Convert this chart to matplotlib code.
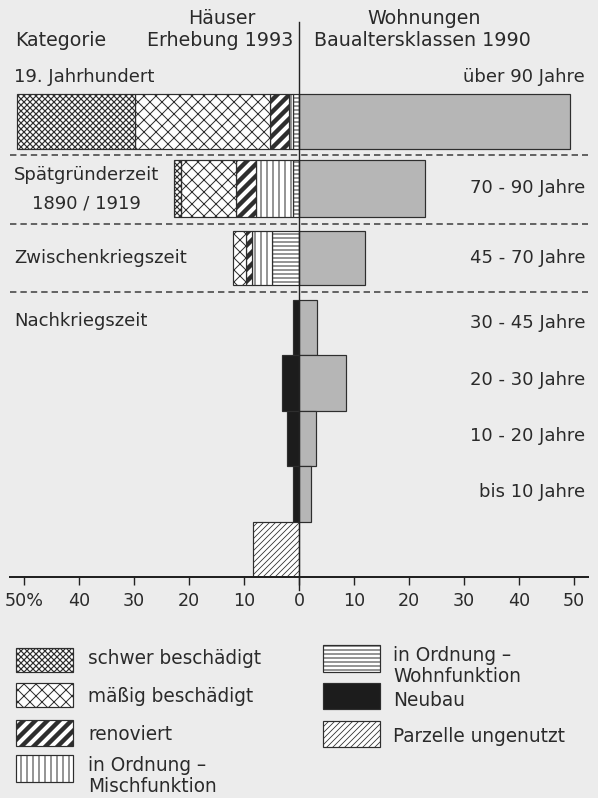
import matplotlib.pyplot as plt
from matplotlib.patches import Rectangle
import numpy as np

# Häuser (Erhebung 1993), Anteile in % nach links
schwer = [21.4, 1.2, 0, 0, 0, 0, 0, 0]
maessig = [24.5, 10.0, 2.3, 0, 0, 0, 0, 0]
renoviert = [3.5, 3.6, 1.1, 0, 0, 0, 0, 0]
misch = [0.7, 6.8, 3.6, 0, 0, 0, 0, 0]
wohn = [1.1, 1.1, 4.9, 0, 0, 0, 0, 0]
neubau = [0, 0, 0, 1.0, 3.0, 2.2, 1.0, 0]
parzelle = [0, 0, 0, 0, 0, 0, 0, 8.3]
# Wohnungen (Baualtersklassen 1990), Anteile in % nach rechts
wohnungen = [49.2, 22.9, 12.0, 3.2, 8.5, 3.0, 2.1, 0]

kategorien = ['19. Jahrhundert', 'Spätgründerzeit', '1890 / 1919',
              'Zwischenkriegszeit', 'Nachkriegszeit']
altersklassen = ['über 90 Jahre', '70 - 90 Jahre', '45 - 70 Jahre', '30 - 45 Jahre',
                 '20 - 30 Jahre', '10 - 20 Jahre', 'bis 10 Jahre']
ticks = [-50, -40, -30, -20, -10, 0, 10, 20, 30, 40, 50]
tick_labels = ['50%', '40', '30', '20', '10', '0', '10', '20', '30', '40', '50']

# Schraffur, Füllung, Linienstärke der Schraffur
ST_SCHWER = ('xxxx', 'white', 1.2)
ST_MAESSIG = ('xx', 'white', 1.0)
ST_RENOV = ('//', 'white', 4.4)
ST_MISCH = ('||', 'white', 1.0)
ST_WOHN = ('---', 'white', 1.0)
ST_NEUBAU = ('', '#1c1c1c', 1.0)
ST_PARZ = ('////', 'white', 0.8)

# Reihenfolge vom Nullpunkt nach außen
segmente = [
    (wohn, ST_WOHN),
    (misch, ST_MISCH),
    (renoviert, ST_RENOV),
    (maessig, ST_MAESSIG),
    (schwer, ST_SCHWER),
    (neubau, ST_NEUBAU),
    (parzelle, ST_PARZ),
]

BG = '#ececec'
TXT = '#2a2a2a'
EDGE = '#2e2e2e'

W, H = 598, 798
fig = plt.figure(figsize=(W / 72, H / 72), dpi=72, facecolor=BG)
plt.rcParams['font.family'] = ['DejaVu Sans']


def fx(x):
    return x / W


def fy(y):
    return 1 - y / H


ax = fig.add_axes([fx(10), fy(577), 578 / W, 577 / H])
ax.set_facecolor(BG)
ax.set_xlim(-52.5, 52.5)
ax.set_ylim(0, 577 / 55.5)

y_pos = np.array([8.2, 7.0, 5.75, 4.5, 3.5, 2.5, 1.5, 0.5])
hoehe = [0.99, 1.03, 0.96, 1.0, 1.0, 1.0, 1.0, 1.0]

cum = np.zeros(len(y_pos))
for werte, (hatch, fc, hlw) in segmente:
    werte = np.array(werte, dtype=float)
    bars = ax.barh(y_pos, werte, left=-(cum + werte), height=hoehe,
                   color=fc, edgecolor=EDGE, linewidth=1.2, hatch=hatch, zorder=2)
    for b, w in zip(bars, werte):
        if w == 0:
            b.set_visible(False)
        if hasattr(b, 'set_hatch_linewidth'):
            b.set_hatch_linewidth(hlw)
    cum += werte

bars = ax.barh(y_pos, wohnungen, height=hoehe, color='#b6b6b6',
               edgecolor=EDGE, linewidth=1.2, zorder=2)
for b, w in zip(bars, wohnungen):
    if w == 0:
        b.set_visible(False)

for yl in [7.6, 6.36, 5.14]:
    ax.axhline(yl, color='#444444', lw=1.6, ls=(0, (4, 2.5)), zorder=1)

ax.axvline(0, ymin=-0.022, ymax=0.962, color='#222222', lw=1.4, zorder=3, clip_on=False)

for s in ['left', 'right', 'top']:
    ax.spines[s].set_visible(False)
ax.spines['bottom'].set_linewidth(2)
ax.spines['bottom'].set_color('#222222')
ax.set_yticks([])
ax.set_xticks(ticks)
ax.set_xticklabels(tick_labels)
ax.tick_params(axis='x', length=8, width=1.4, pad=7, labelsize=17.5,
               colors='#222222', labelcolor=TXT)

# Kopfzeile
fs = 19
fig.text(fx(15), fy(40), 'Kategorie', fontsize=fs, color=TXT, ha='left', va='center')
fig.text(fx(222), fy(18), 'Häuser', fontsize=fs, color=TXT, ha='center', va='center')
fig.text(fx(220), fy(40), 'Erhebung 1993', fontsize=fs, color=TXT, ha='center', va='center')
fig.text(fx(424), fy(18), 'Wohnungen', fontsize=fs, color=TXT, ha='center', va='center')
fig.text(fx(422), fy(40), 'Baualtersklassen 1990', fontsize=fs, color=TXT, ha='center', va='center')

# Kategorien links
fs2 = 18
fig.text(fx(14), fy(77), kategorien[0], fontsize=fs2, color=TXT, ha='left', va='center')
fig.text(fx(14), fy(175), kategorien[1], fontsize=fs2, color=TXT, ha='left', va='center')
fig.text(fx(86), fy(203), kategorien[2], fontsize=fs2, color=TXT, ha='center', va='center')
fig.text(fx(14), fy(258), kategorien[3], fontsize=fs2, color=TXT, ha='left', va='center')
fig.text(fx(14), fy(321), kategorien[4], fontsize=fs2, color=TXT, ha='left', va='center')

# Altersklassen rechts
rechts_y = [77, 188, 258, 323, 380, 436, 492]
for lab, yy in zip(altersklassen, rechts_y):
    fig.text(fx(585), fy(yy), lab, fontsize=fs2, color=TXT, ha='right', va='center')

# Legende
leg_labels = ['schwer beschädigt', 'mäßig beschädigt', 'renoviert',
              'in Ordnung –\nMischfunktion', 'in Ordnung –\nWohnfunktion',
              'Neubau', 'Parzelle ungenutzt']
leg_style = [ST_SCHWER, ST_MAESSIG, ST_RENOV, ST_MISCH, ST_WOHN, ST_NEUBAU, ST_PARZ]
leg_box = [(16, 648, 24), (16, 683, 24), (16, 720, 26), (16, 755, 27),
           (323, 645, 27), (323, 683, 26), (323, 721, 26)]
leg_text = [(88, 658), (88, 696), (88, 734), (88, 776),
            (393, 666), (393, 700), (393, 736)]

lax = fig.add_axes([0, 0, 1, 1], facecolor='none')
lax.set_xlim(0, W)
lax.set_ylim(H, 0)
lax.axis('off')
for lab, (hatch, fc, hlw), (bx, by, bh), (tx, ty) in zip(leg_labels, leg_style, leg_box, leg_text):
    r = Rectangle((bx, by), 57, bh, facecolor=fc, edgecolor=EDGE, lw=1.2, hatch=hatch)
    if hasattr(r, 'set_hatch_linewidth'):
        r.set_hatch_linewidth(hlw)
    lax.add_patch(r)
    lax.text(tx, ty, lab, fontsize=18.5, color=TXT, ha='left', va='center', linespacing=1.12)

fig.savefig('out.png', dpi=72, facecolor=BG)
